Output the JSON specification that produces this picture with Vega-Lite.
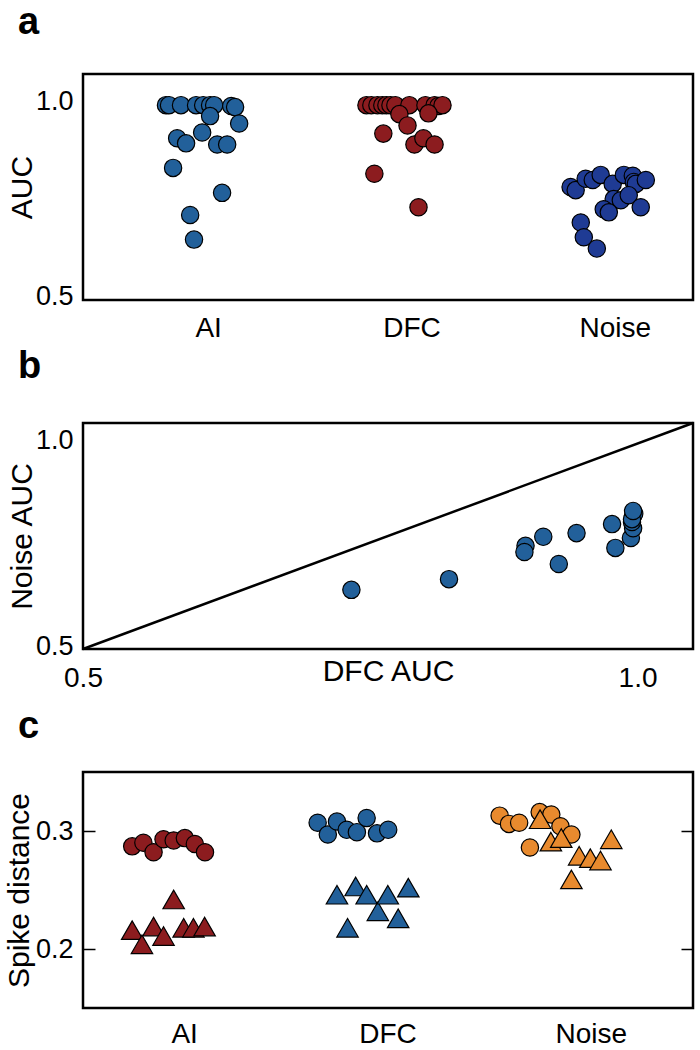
{
  "$schema": "https://vega.github.io/schema/vega-lite/v6.json",
  "background": "white",
  "padding": {"left": 2, "top": 2, "right": 4, "bottom": 0},
  "spacing": 123,
  "bounds": "flush",
  "resolve": {"scale": {"color": "independent", "xOffset": "independent", "x": "independent", "y": "independent"}},
  "config": {
    "view": {"stroke": "black", "strokeWidth": 2.5},
    "font": "Liberation Sans",
    "axis": {"labelFont": "Liberation Sans", "titleFont": "Liberation Sans", "labelColor": "black", "titleColor": "black", "titleFontWeight": "normal", "domain": false, "grid": false, "ticks": false, "labelFlush": false, "labelFontSize": 28, "titleFontSize": 30},
    "title": {"font": "Liberation Sans", "fontSize": 38, "fontWeight": "bold", "color": "black", "anchor": "start", "frame": "group", "baseline": "alphabetic"}
  },
  "datasets": {
    "auc": [
      {"group": "AI", "jitter": -0.222, "auc": 1.0},
      {"group": "AI", "jitter": -0.207, "auc": 1.0},
      {"group": "AI", "jitter": -0.148, "auc": 1.0},
      {"group": "AI", "jitter": -0.074, "auc": 1.0},
      {"group": "AI", "jitter": -0.039, "auc": 1.0},
      {"group": "AI", "jitter": -0.005, "auc": 1.0},
      {"group": "AI", "jitter": 0.015, "auc": 1.0},
      {"group": "AI", "jitter": 0.099, "auc": 0.998},
      {"group": "AI", "jitter": 0.118, "auc": 0.995},
      {"group": "AI", "jitter": -0.005, "auc": 0.972},
      {"group": "AI", "jitter": 0.138, "auc": 0.953},
      {"group": "AI", "jitter": -0.044, "auc": 0.930},
      {"group": "AI", "jitter": -0.167, "auc": 0.915},
      {"group": "AI", "jitter": -0.123, "auc": 0.902},
      {"group": "AI", "jitter": 0.030, "auc": 0.899},
      {"group": "AI", "jitter": 0.079, "auc": 0.899},
      {"group": "AI", "jitter": -0.187, "auc": 0.839},
      {"group": "AI", "jitter": 0.054, "auc": 0.775},
      {"group": "AI", "jitter": -0.103, "auc": 0.718},
      {"group": "AI", "jitter": -0.084, "auc": 0.655},
      {"group": "DFC", "jitter": -0.236, "auc": 1.0},
      {"group": "DFC", "jitter": -0.212, "auc": 1.0},
      {"group": "DFC", "jitter": -0.182, "auc": 1.0},
      {"group": "DFC", "jitter": -0.158, "auc": 1.0},
      {"group": "DFC", "jitter": -0.138, "auc": 1.0},
      {"group": "DFC", "jitter": -0.118, "auc": 1.0},
      {"group": "DFC", "jitter": -0.094, "auc": 1.0},
      {"group": "DFC", "jitter": -0.025, "auc": 1.0},
      {"group": "DFC", "jitter": 0.054, "auc": 1.0},
      {"group": "DFC", "jitter": 0.099, "auc": 1.0},
      {"group": "DFC", "jitter": 0.118, "auc": 0.998},
      {"group": "DFC", "jitter": 0.138, "auc": 1.0},
      {"group": "DFC", "jitter": 0.069, "auc": 0.979},
      {"group": "DFC", "jitter": -0.074, "auc": 0.977},
      {"group": "DFC", "jitter": -0.034, "auc": 0.948},
      {"group": "DFC", "jitter": -0.153, "auc": 0.927},
      {"group": "DFC", "jitter": 0.0, "auc": 0.899},
      {"group": "DFC", "jitter": 0.044, "auc": 0.915},
      {"group": "DFC", "jitter": 0.099, "auc": 0.899},
      {"group": "DFC", "jitter": -0.197, "auc": 0.824},
      {"group": "DFC", "jitter": 0.020, "auc": 0.738},
      {"group": "Noise", "jitter": -0.232, "auc": 0.790},
      {"group": "Noise", "jitter": -0.207, "auc": 0.782},
      {"group": "Noise", "jitter": -0.158, "auc": 0.811},
      {"group": "Noise", "jitter": -0.123, "auc": 0.808},
      {"group": "Noise", "jitter": -0.084, "auc": 0.821},
      {"group": "Noise", "jitter": -0.025, "auc": 0.798},
      {"group": "Noise", "jitter": 0.030, "auc": 0.821},
      {"group": "Noise", "jitter": 0.074, "auc": 0.819},
      {"group": "Noise", "jitter": 0.079, "auc": 0.803},
      {"group": "Noise", "jitter": 0.089, "auc": 0.798},
      {"group": "Noise", "jitter": 0.138, "auc": 0.808},
      {"group": "Noise", "jitter": -0.020, "auc": 0.759},
      {"group": "Noise", "jitter": 0.015, "auc": 0.756},
      {"group": "Noise", "jitter": 0.054, "auc": 0.769},
      {"group": "Noise", "jitter": -0.069, "auc": 0.733},
      {"group": "Noise", "jitter": -0.044, "auc": 0.725},
      {"group": "Noise", "jitter": 0.113, "auc": 0.738},
      {"group": "Noise", "jitter": -0.182, "auc": 0.699},
      {"group": "Noise", "jitter": -0.167, "auc": 0.661},
      {"group": "Noise", "jitter": -0.103, "auc": 0.632}
    ],
    "pairs": [
      {"dfc": 0.742, "noise": 0.644},
      {"dfc": 0.830, "noise": 0.670},
      {"dfc": 0.899, "noise": 0.751},
      {"dfc": 0.898, "noise": 0.736},
      {"dfc": 0.915, "noise": 0.773},
      {"dfc": 0.929, "noise": 0.707},
      {"dfc": 0.945, "noise": 0.782},
      {"dfc": 0.977, "noise": 0.804},
      {"dfc": 0.980, "noise": 0.746},
      {"dfc": 0.994, "noise": 0.770},
      {"dfc": 0.996, "noise": 0.794},
      {"dfc": 0.995, "noise": 0.809},
      {"dfc": 0.996, "noise": 0.824},
      {"dfc": 0.997, "noise": 0.829},
      {"dfc": 0.995, "noise": 0.816},
      {"dfc": 0.996, "noise": 0.836}
    ],
    "diag": [
      {"dfc": 0.5, "noise": 0.5},
      {"dfc": 1.05, "noise": 1.05}
    ],
    "spike": [
      {"group": "AI", "kind": "circle", "jitter": -0.258, "dist": 0.287},
      {"group": "AI", "kind": "circle", "jitter": -0.203, "dist": 0.290},
      {"group": "AI", "kind": "circle", "jitter": -0.153, "dist": 0.282},
      {"group": "AI", "kind": "circle", "jitter": -0.104, "dist": 0.293},
      {"group": "AI", "kind": "circle", "jitter": -0.054, "dist": 0.292},
      {"group": "AI", "kind": "circle", "jitter": 0.001, "dist": 0.294},
      {"group": "AI", "kind": "circle", "jitter": 0.050, "dist": 0.289},
      {"group": "AI", "kind": "circle", "jitter": 0.100, "dist": 0.282},
      {"group": "AI", "kind": "triangle", "jitter": -0.258, "dist": 0.216},
      {"group": "AI", "kind": "triangle", "jitter": -0.210, "dist": 0.204},
      {"group": "AI", "kind": "triangle", "jitter": -0.153, "dist": 0.219},
      {"group": "AI", "kind": "triangle", "jitter": -0.104, "dist": 0.211},
      {"group": "AI", "kind": "triangle", "jitter": -0.054, "dist": 0.242},
      {"group": "AI", "kind": "triangle", "jitter": -0.005, "dist": 0.218},
      {"group": "AI", "kind": "triangle", "jitter": 0.043, "dist": 0.218},
      {"group": "AI", "kind": "triangle", "jitter": 0.098, "dist": 0.219},
      {"group": "DFC", "kind": "circle", "jitter": -0.346, "dist": 0.307},
      {"group": "DFC", "kind": "circle", "jitter": -0.296, "dist": 0.297},
      {"group": "DFC", "kind": "circle", "jitter": -0.251, "dist": 0.308},
      {"group": "DFC", "kind": "circle", "jitter": -0.203, "dist": 0.301},
      {"group": "DFC", "kind": "circle", "jitter": -0.153, "dist": 0.299},
      {"group": "DFC", "kind": "circle", "jitter": -0.105, "dist": 0.311},
      {"group": "DFC", "kind": "circle", "jitter": -0.054, "dist": 0.298},
      {"group": "DFC", "kind": "circle", "jitter": 0.001, "dist": 0.301},
      {"group": "DFC", "kind": "triangle", "jitter": -0.251, "dist": 0.246},
      {"group": "DFC", "kind": "triangle", "jitter": -0.199, "dist": 0.218},
      {"group": "DFC", "kind": "triangle", "jitter": -0.159, "dist": 0.253},
      {"group": "DFC", "kind": "triangle", "jitter": -0.105, "dist": 0.246},
      {"group": "DFC", "kind": "triangle", "jitter": -0.050, "dist": 0.232},
      {"group": "DFC", "kind": "triangle", "jitter": -0.001, "dist": 0.246},
      {"group": "DFC", "kind": "triangle", "jitter": 0.050, "dist": 0.226},
      {"group": "DFC", "kind": "triangle", "jitter": 0.100, "dist": 0.252},
      {"group": "Noise", "kind": "circle", "jitter": -0.451, "dist": 0.313},
      {"group": "Noise", "kind": "circle", "jitter": -0.405, "dist": 0.306},
      {"group": "Noise", "kind": "circle", "jitter": -0.355, "dist": 0.307},
      {"group": "Noise", "kind": "circle", "jitter": -0.302, "dist": 0.286},
      {"group": "Noise", "kind": "circle", "jitter": -0.254, "dist": 0.316},
      {"group": "Noise", "kind": "circle", "jitter": -0.197, "dist": 0.314},
      {"group": "Noise", "kind": "circle", "jitter": -0.152, "dist": 0.304},
      {"group": "Noise", "kind": "circle", "jitter": -0.098, "dist": 0.297},
      {"group": "Noise", "kind": "triangle", "jitter": -0.252, "dist": 0.310},
      {"group": "Noise", "kind": "triangle", "jitter": -0.199, "dist": 0.291},
      {"group": "Noise", "kind": "triangle", "jitter": -0.148, "dist": 0.294},
      {"group": "Noise", "kind": "triangle", "jitter": -0.098, "dist": 0.259},
      {"group": "Noise", "kind": "triangle", "jitter": -0.060, "dist": 0.279},
      {"group": "Noise", "kind": "triangle", "jitter": -0.005, "dist": 0.277},
      {"group": "Noise", "kind": "triangle", "jitter": 0.045, "dist": 0.275},
      {"group": "Noise", "kind": "triangle", "jitter": 0.098, "dist": 0.293}
    ]
  },
  "vconcat": [
    {
      "title": {"text": "a", "dx": -65, "offset": 32},
      "width": 610,
      "height": 226,
      "data": {"name": "auc"},
      "mark": {"type": "point", "shape": "circle", "filled": true, "size": 300, "stroke": "black", "strokeWidth": 1.2, "opacity": 1},
      "encoding": {
        "x": {"field": "group", "type": "nominal", "sort": ["AI", "DFC", "Noise"], "scale": {"paddingInner": 0, "paddingOuter": 0}, "axis": {"title": null, "labelAngle": 0, "labelOffset": 24, "labelPadding": 28, "labelBaseline": "middle"}},
        "xOffset": {"field": "jitter", "type": "quantitative", "scale": {"domain": [-0.63, 0.37]}},
        "y": {"field": "auc", "type": "quantitative", "scale": {"domain": [0.5, 1.08], "nice": false, "zero": false}, "axis": {"title": "AUC", "values": [0.5, 1.0], "format": ".1f", "labelPadding": 10, "labelOffset": -4, "labelFontSize": 27, "titleX": -61, "titleBaseline": "middle"}},
        "color": {"field": "group", "type": "nominal", "scale": {"domain": ["AI", "DFC", "Noise"], "range": ["#22609a", "#8c1c1f", "#1f3b94"]}, "legend": null}
      }
    },
    {
      "title": {"text": "b", "dx": -65, "offset": 32},
      "width": 610,
      "height": 226,
      "layer": [
        {
          "data": {"name": "diag"},
          "mark": {"type": "line", "color": "black", "strokeWidth": 2.5},
          "encoding": {
            "x": {"field": "dfc", "type": "quantitative"},
            "y": {"field": "noise", "type": "quantitative"}
          }
        },
        {
          "data": {"name": "pairs"},
          "mark": {"type": "point", "shape": "circle", "filled": true, "size": 300, "stroke": "black", "strokeWidth": 1.2, "opacity": 1, "color": "#22609a"},
          "encoding": {
            "x": {"field": "dfc", "type": "quantitative", "scale": {"domain": [0.5, 1.05], "nice": false, "zero": false}, "axis": {"title": "DFC AUC", "values": [0.5, 1.0], "format": ".1f", "labelPadding": 29, "labelBaseline": "middle", "titleY": 22, "titleBaseline": "middle"}},
            "y": {"field": "noise", "type": "quantitative", "scale": {"domain": [0.5, 1.05], "nice": false, "zero": false}, "axis": {"title": "Noise AUC", "values": [0.5, 1.0], "format": ".1f", "labelPadding": 10, "labelOffset": -3, "labelFontSize": 27, "titleX": -61, "titleBaseline": "middle"}}
          }
        }
      ]
    },
    {
      "title": {"text": "c", "dx": -65, "offset": 26},
      "width": 610,
      "height": 236,
      "data": {"name": "spike"},
      "layer": [
        {
          "transform": [{"filter": "datum.kind === 'circle'"}],
          "mark": {"type": "point", "shape": "circle", "filled": true, "size": 300, "stroke": "black", "strokeWidth": 1.2, "opacity": 1},
          "encoding": {
            "x": {"field": "group", "type": "nominal", "sort": ["AI", "DFC", "Noise"], "scale": {"paddingInner": 0, "paddingOuter": 0}, "axis": {"title": null, "labelAngle": 0, "labelPadding": 26, "labelBaseline": "middle"}},
            "xOffset": {"field": "jitter", "type": "quantitative", "scale": {"domain": [-0.5, 0.5]}},
            "y": {"field": "dist", "type": "quantitative", "scale": {"domain": [0.15, 0.35], "nice": false, "zero": false}, "axis": {"title": "Spike distance", "values": [0.2, 0.3], "format": ".1f", "ticks": true, "tickSize": -12, "tickWidth": 1.5, "tickColor": "black", "labelPadding": 22, "labelFontSize": 27, "titleX": -64, "titleBaseline": "middle"}},
            "color": {"field": "group", "type": "nominal", "scale": {"domain": ["AI", "DFC", "Noise"], "range": ["#8c1c1f", "#22609a", "#e88a2e"]}, "legend": null}
          }
        },
        {
          "transform": [{"filter": "datum.kind === 'triangle'"}],
          "mark": {"type": "point", "shape": "triangle-up", "filled": true, "size": 460, "stroke": "black", "strokeWidth": 1.2, "opacity": 1},
          "encoding": {
            "x": {"field": "group", "type": "nominal", "sort": ["AI", "DFC", "Noise"], "scale": {"paddingInner": 0, "paddingOuter": 0}, "axis": {"title": null, "labelAngle": 0, "labelPadding": 26, "labelBaseline": "middle"}},
            "xOffset": {"field": "jitter", "type": "quantitative", "scale": {"domain": [-0.5, 0.5]}},
            "y": {"field": "dist", "type": "quantitative", "scale": {"domain": [0.15, 0.35], "nice": false, "zero": false}, "axis": {"orient": "right", "title": null, "labels": false, "values": [0.2, 0.3], "ticks": true, "tickSize": -12, "tickWidth": 1.5, "tickColor": "black"}},
            "color": {"field": "group", "type": "nominal", "scale": {"domain": ["AI", "DFC", "Noise"], "range": ["#8c1c1f", "#22609a", "#e88a2e"]}, "legend": null}
          }
        }
      ],
      "resolve": {"axis": {"y": "independent"}}
    }
  ]
}
